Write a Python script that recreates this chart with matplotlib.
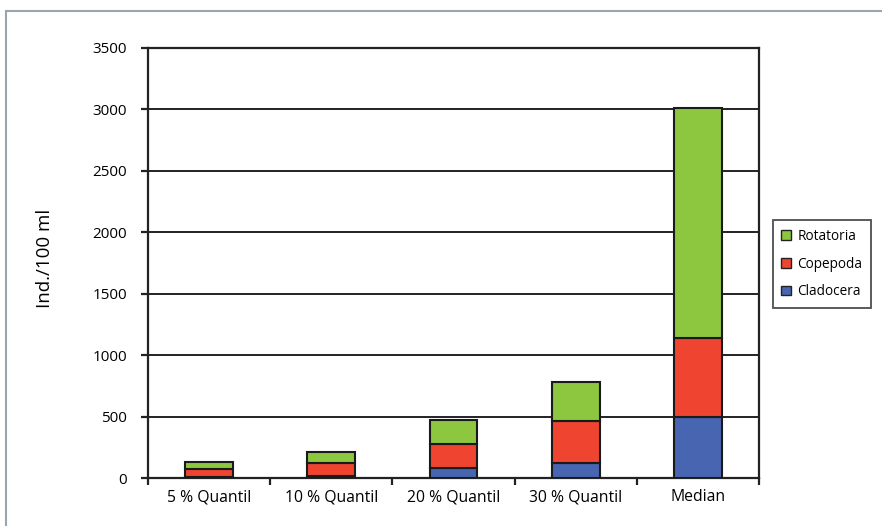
import matplotlib
matplotlib.use("Agg")
import matplotlib.pyplot as plt
from matplotlib.patches import Rectangle, Patch
import numpy as np

categories = ["5 % Quantil", "10 % Quantil", "20 % Quantil", "30 % Quantil", "Median"]
cladocera = [5, 15, 80, 120, 500]
copepoda = [65, 107, 200, 345, 640]
rotatoria = [57, 88, 190, 320, 1870]
series_names = ["Cladocera", "Copepoda", "Rotatoria"]
colors = ["#4765B0", "#EF4430", "#8DC63F"]

plt.rcParams['font.family'] = ['Open Sans', 'DejaVu Sans']

fig = plt.figure(figsize=(8.82, 5.26), dpi=100)
ax = fig.add_axes([148/882, 1-478/526, (759-148)/882, (478-48)/526])

x = np.arange(len(categories))
bottom = np.zeros(len(categories))
for vals, name, c in zip([cladocera, copepoda, rotatoria], series_names, colors):
    ax.bar(x, vals, width=0.39, bottom=bottom, color=c, edgecolor="#1a1a1a",
           linewidth=1.5, zorder=3, label=name)
    bottom += np.array(vals)

ax.set_xlim(-0.5, len(categories) - 0.5)
ax.set_ylim(0, 3500)
ax.set_yticks(np.arange(0, 3501, 500))
ax.yaxis.grid(True, color="#222222", linewidth=1.4, zorder=1)
ax.set_axisbelow(True)
for s in ax.spines.values():
    s.set_color("#222222")
    s.set_linewidth(1.6)

ax.set_xticks(x)
ax.set_xticklabels(categories, fontsize=11.3)
ax.tick_params(axis="x", length=0, pad=8)
ax.set_xticks(np.arange(-0.5, len(categories), 1), minor=True)
ax.tick_params(axis="x", which="minor", length=5, width=1.6, color="#222222", direction="out")
ax.tick_params(axis="y", length=5, width=1.6, color="#222222", labelsize=11, pad=10)

ax.set_ylabel("Ind./100 ml", fontsize=13.5)
ax.yaxis.set_label_coords(-0.154, 0.51)

leg_handles = [Patch(facecolor=c, edgecolor="#222222", linewidth=1.0) for c in colors[::-1]]
leg = fig.legend(leg_handles, series_names[::-1], loc="center left",
                 bbox_to_anchor=(773/882, 1-264/526), frameon=True, fancybox=False,
                 edgecolor="#222222", fontsize=9.8, handlelength=0.7, handleheight=0.7,
                 handletextpad=0.5, labelspacing=0.95, borderpad=0.6, borderaxespad=0)
leg.get_frame().set_linewidth(1.3)

fig.patches.append(Rectangle((6/882, -0.1), 1.0, 1 - 11/526 + 0.1, transform=fig.transFigure,
                             fill=False, edgecolor="#9aa4ad", linewidth=1.5))

fig.savefig("out.png", dpi=100)
